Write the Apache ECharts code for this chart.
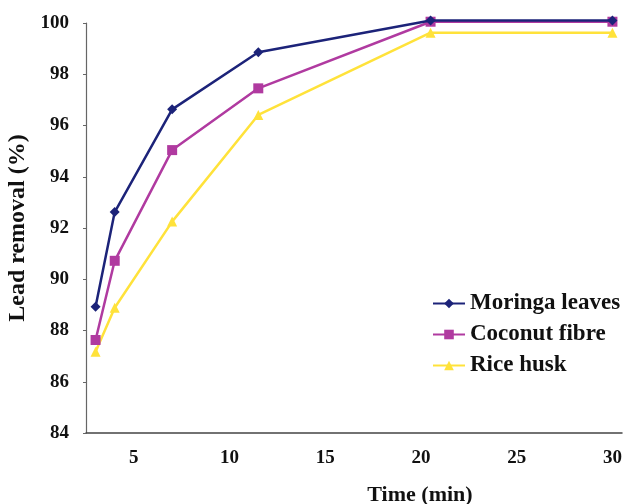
<!DOCTYPE html>
<html><head><meta charset="utf-8">
<script src="https://cdn.jsdelivr.net/npm/echarts@6/dist/echarts.min.js"></script>
<style>html,body{margin:0;padding:0;background:#fff}#c{width:624px;height:504px}</style>
</head><body><div id="c"></div>
<script>
const timeMin = [3, 4, 7, 11.5, 20.5, 30];
const moringa = [88.93, 92.62, 96.63, 98.86, 100.1, 100.1];
const coconut = [87.63, 90.72, 95.04, 97.45, 100.05, 100.05];
const rice = [87.17, 88.89, 92.25, 96.41, 99.62, 99.62];
const names = ['Moringa leaves', 'Coconut fibre', 'Rice husk'];
const xTicks = [5, 10, 15, 20, 25, 30];

const font = 'Liberation Serif';
const pairs = a => timeMin.map((t, i) => [t, a[i]]);
const chart = echarts.init(document.getElementById('c'));
chart.setOption({
  animation: false,
  grid: {left: 86, top: 23, right: 2, bottom: 71, outerBoundsMode: 'none', containLabel: false},
  legend: {
    left: 427, top: 287, orient: 'vertical', itemGap: 8, itemWidth: 32, itemHeight: 12,
    textStyle: {fontFamily: font, fontWeight: 'bold', fontSize: 23, color: '#111'},
    data: names
  },
  xAxis: {
    type: 'value', min: 2.5, max: 30.5,
    name: 'Time (min)', nameLocation: 'middle', nameGap: 51,
    nameTextStyle: {fontFamily: font, fontWeight: 'bold', fontSize: 22, color: '#111', padding: [0, 0, 0, 132]},
    axisLine: {lineStyle: {color: '#444', width: 1.5}},
    axisTick: {show: false},
    splitLine: {show: false},
    axisLabel: {customValues: xTicks, fontFamily: font, fontWeight: 'bold', fontSize: 19, color: '#111', margin: 16}
  },
  yAxis: {
    type: 'value', min: 84, max: 100, interval: 2,
    name: 'Lead removal (%)', nameLocation: 'middle', nameGap: 55,
    nameTextStyle: {fontFamily: font, fontWeight: 'bold', fontSize: 24, color: '#111'},
    axisLine: {show: true, lineStyle: {color: '#666', width: 1.2}},
    axisTick: {show: true, length: 3, lineStyle: {color: '#666'}},
    splitLine: {show: false},
    axisLabel: {fontFamily: font, fontWeight: 'bold', fontSize: 19, color: '#111', margin: 17}
  },
  series: [
    {name: names[0], type: 'line', data: pairs(moringa), symbol: 'diamond', symbolSize: 10, clip: false,
     itemStyle: {color: '#1c2379'}, lineStyle: {width: 2.5, color: '#1c2379'}, z: 3},
    {name: names[1], type: 'line', data: pairs(coconut), symbol: 'rect', symbolSize: 10, clip: false,
     itemStyle: {color: '#b03aa0'}, lineStyle: {width: 2.5, color: '#b03aa0'}, z: 2},
    {name: names[2], type: 'line', data: pairs(rice), symbol: 'triangle', symbolSize: 10, clip: false,
     itemStyle: {color: '#ffe23a'}, lineStyle: {width: 2.5, color: '#ffe23a'}, z: 1}
  ]
});
</script></body></html>
